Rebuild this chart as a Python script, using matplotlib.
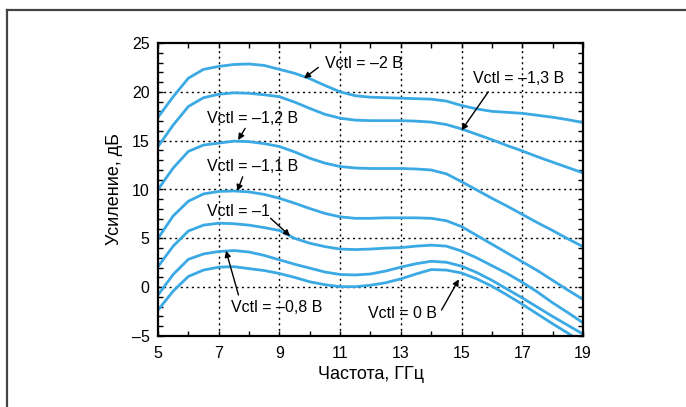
import matplotlib
matplotlib.use("Agg")
import matplotlib.pyplot as plt
from matplotlib.lines import Line2D
from matplotlib.ticker import MultipleLocator

plt.rcParams['font.family'] = ['Liberation Sans', 'DejaVu Sans']

# Частота, ГГц
freq = [5, 5.5, 6, 6.5, 7, 7.5, 8, 8.5, 9, 9.5, 10, 10.5, 11, 11.5, 12,
        12.5, 13, 13.5, 14, 14.5, 15, 15.5, 16, 16.5, 17, 17.5, 18, 18.5, 19]

# Усиление, дБ для разных Vctl
g_m2 = [17.4, 19.5, 21.4, 22.3, 22.6, 22.8, 22.85, 22.7, 22.3, 21.9, 21.35, 20.65,
        20.0, 19.6, 19.45, 19.4, 19.35, 19.3, 19.25, 19.05, 18.6, 18.25, 18.0,
        17.9, 17.8, 17.6, 17.4, 17.15, 16.85]
g_m13 = [14.4, 16.6, 18.5, 19.4, 19.75, 19.9, 19.85, 19.7, 19.5, 18.95, 18.3, 17.7,
         17.3, 17.1, 17.05, 17.05, 17.05, 17.0, 16.9, 16.65, 16.2, 15.65, 15.1,
         14.5, 13.95, 13.35, 12.8, 12.25, 11.7]
g_m12 = [10.0, 12.2, 13.9, 14.55, 14.75, 14.95, 14.9, 14.7, 14.4, 13.85, 13.2, 12.7,
         12.35, 12.2, 12.15, 12.15, 12.15, 12.1, 12.0, 11.6, 10.8, 9.95, 9.1,
         8.3, 7.45, 6.6, 5.8, 4.95, 4.15]
g_m11 = [5.0, 7.3, 8.8, 9.55, 9.8, 9.85, 9.75, 9.5, 9.1, 8.6, 8.05, 7.55,
         7.2, 7.05, 7.05, 7.1, 7.1, 7.1, 7.05, 6.8, 6.2, 5.3, 4.4,
         3.5, 2.6, 1.7, 0.7, -0.3, -1.25]
g_m1 = [2.1, 4.2, 5.75, 6.35, 6.55, 6.5, 6.35, 6.1, 5.8, 5.0, 4.5, 4.15,
        3.9, 3.85, 3.9, 4.0, 4.05, 4.2, 4.3, 4.2, 3.7, 3.0, 2.2,
        1.4, 0.5, -0.5, -1.6, -2.6, -3.65]
g_m08 = [-0.8, 1.3, 2.85, 3.4, 3.65, 3.75, 3.6, 3.25, 2.8, 2.35, 1.95, 1.55,
         1.3, 1.25, 1.35, 1.65, 2.05, 2.4, 2.65, 2.55, 2.15, 1.5, 0.7,
         -0.2, -1.1, -2.05, -3.0, -3.9, -4.8]
g_0 = [-2.35, -0.4, 1.1, 1.75, 2.05, 2.1, 1.9, 1.7, 1.4, 1.0, 0.55, 0.25,
       0.05, 0.05, 0.2, 0.45, 0.85, 1.35, 1.8, 1.75, 1.45, 0.85, 0.1,
       -0.8, -1.75, -2.75, -3.75, -4.7, -5.7]

curves = [g_m2, g_m13, g_m12, g_m11, g_m1, g_m08, g_0]

xticks = [5, 7, 9, 11, 13, 15, 17, 19]
yticks = [-5, 0, 5, 10, 15, 20, 25]
ytick_labels = ['–5', '0', '5', '10', '15', '20', '25']

# подписи: текст, позиция текста, начало и конец стрелки
labels = ['Vctl = –2 В', 'Vctl = –1,3 В', 'Vctl = –1,2 В', 'Vctl = –1,1 В',
          'Vctl = –1', 'Vctl = –0,8 В', 'Vctl = 0 В']
label_xy = [(10.5, 22.9), (15.37, 21.38), (6.61, 17.28), (6.61, 12.4),
            (6.61, 7.72), (7.4, -2.1), (11.92, -2.65)]
arrow_from = [(10.28, 22.5), (15.88, 20.0), (7.87, 16.26), (7.79, 11.3),
              (8.71, 7.05), (7.65, -0.8), (14.34, -2.34)]
arrow_to = [(9.81, 21.38), (15.0, 16.06), (7.64, 15.06), (7.61, 9.84),
            (9.35, 5.24), (7.24, 3.73), (14.91, 0.8)]

color = '#3aa9e4'

fig = plt.figure(figsize=(6.86, 4.07), dpi=100)
ax = fig.add_axes([158 / 686, 1 - 336 / 407, 425 / 686, 293 / 407])

for g in curves:
    ax.plot(freq, g, color=color, lw=2.0, solid_capstyle='round',
            solid_joinstyle='round')

ax.set_xlim(5, 19)
ax.set_ylim(-5, 25)
ax.set_xticks(xticks)
ax.xaxis.set_minor_locator(MultipleLocator(1))
ax.set_yticks(yticks)
ax.set_yticklabels(ytick_labels)
ax.yaxis.set_minor_locator(MultipleLocator(1))

ax.tick_params(which='both', direction='in', top=True, right=True,
               width=1.0, labelsize=11.5)
ax.tick_params(which='major', length=3.5)
ax.tick_params(which='minor', length=3.5)
ax.tick_params(axis='x', pad=7)
ax.tick_params(axis='y', pad=6)

for s in ax.spines.values():
    s.set_linewidth(1.6)

# пунктирная сетка
for x in [7, 9, 11, 13, 15, 17]:
    ax.axvline(x, color='black', lw=1.0, ls=(0, (1.5, 2.5)), zorder=0)
for y in [0, 5, 10, 15, 20]:
    ax.axhline(y, color='black', lw=1.0, ls=(0, (1.5, 2.5)), zorder=0)

for txt, pos, a0, a1 in zip(labels, label_xy, arrow_from, arrow_to):
    ax.text(pos[0], pos[1], txt, fontsize=11.5, ha='left', va='center')
    ax.annotate('', xy=a1, xytext=a0,
                arrowprops=dict(arrowstyle='-|>', color='black', lw=1.0,
                                mutation_scale=9, shrinkA=0, shrinkB=0))

ax.set_xlabel('Частота, ГГц', fontsize=13, labelpad=4)
ax.set_ylabel('Усиление, дБ', fontsize=13, labelpad=6)

# внешняя рамка
fig.add_artist(Line2D([7 / 686, 1.0], [1 - 10 / 407, 1 - 10 / 407],
                      transform=fig.transFigure, color='#444444', lw=1.6))
fig.add_artist(Line2D([7 / 686, 7 / 686], [0, 1 - 10 / 407],
                      transform=fig.transFigure, color='#444444', lw=1.6))

fig.savefig('out.png', dpi=100)
